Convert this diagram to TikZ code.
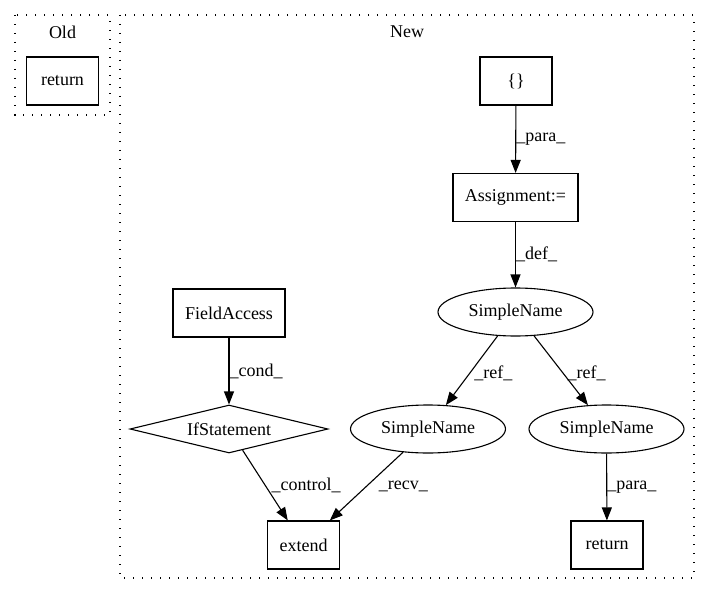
\documentclass[tikz,border=0pt]{standalone}
\usepackage{fontspec}
\setmainfont{Liberation Serif}
\usetikzlibrary{shapes.geometric,arrows.meta}

\begin{document}
\begin{tikzpicture}[x=1pt,y=-1pt,font=\fontsize{18}{22}\selectfont]
          \tikzstyle{box} = [rectangle, draw, line width=1.1pt, minimum width=72pt, minimum height=48pt, inner sep=0pt]
          \tikzstyle{sname} = [ellipse, draw, line width=1.1pt, minimum width=155pt, minimum height=48pt, inner sep=0pt]
          \tikzstyle{cond} = [diamond, draw, line width=1.1pt, aspect=4, minimum width=198pt, minimum height=48pt, inner sep=0pt]
          \tikzstyle{cluster} = [draw, line width=1.3pt, dash pattern=on 1.3pt off 7.7pt]
          \tikzstyle{flow} = [draw, line width=1.1pt, -{Triangle[length=13pt,width=10pt]}]
          \tikzstyle{lbl} = [anchor=west, inner sep=0pt]
        \useasboundingbox (0,0) rectangle (711,596);
        \draw[cluster] (15,15) rectangle (110,115);
        \draw[cluster] (120,15) rectangle (694,578);
        \node (old) at (62.5,32) {Old};
        \node (new) at (407,32) {New};
        \node[box] (1) at (62.5,81) {return};
        \node[box] (2) at (516,81) {\{\}};
        \node[box, minimum width=125pt] (3) at (515.5,197.5) {Assignment:=};
        \node[sname] (4) at (515.5,312) {SimpleName};
        \node[box, minimum width=112pt] (5) at (229,313) {FieldAccess};
        \node[cond] (6) at (229,429) {IfStatement};
        \node[sname] (7) at (428,429) {SimpleName};
        \node[sname] (8) at (606.5,429) {SimpleName};
        \node[box] (9) at (303.5,545) {extend};
        \node[box] (10) at (607,545) {return};
        \begin{scope}
          \draw[flow] (2) -- node[lbl] {\_para\_} (3);
          \draw[flow] (3) -- node[lbl] {\_def\_} (4);
          \draw[flow] (5) -- node[lbl] {\_cond\_} (6);
          \draw[flow] (4) -- node[lbl, xshift=2pt, yshift=-3pt] {\_ref\_} (7);
          \draw[flow] (4) -- node[lbl, xshift=6pt, yshift=-3pt] {\_ref\_} (8);
          \draw[flow] (6) -- node[lbl, xshift=6pt] {\_control\_} (9);
          \draw[flow] (7) -- node[lbl, xshift=12pt] {\_recv\_} (9);
          \draw[flow] (8) -- node[lbl] {\_para\_} (10);
        \end{scope}
      \end{tikzpicture}
\end{document}
